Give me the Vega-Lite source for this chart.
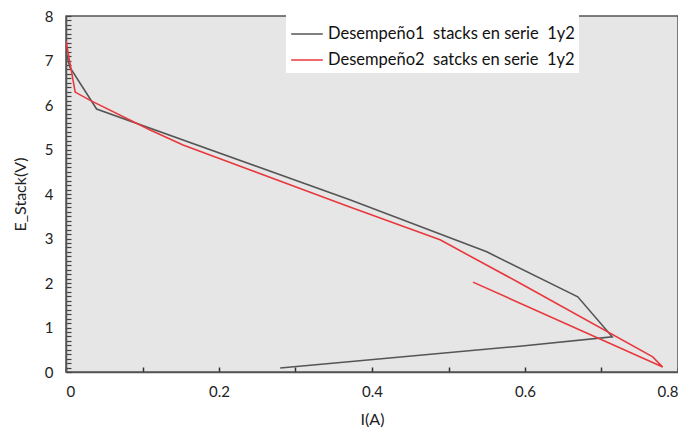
{
  "$schema": "https://vega.github.io/schema/vega-lite/v6.json",
  "width": 612,
  "height": 356,
  "autosize": {"type": "none"},
  "padding": {"left": 66, "top": 16, "right": 0, "bottom": 66},
  "background": "white",
  "config": {
    "font": "Lato",
    "view": {"fill": "#e6e6e6", "stroke": "#555555", "strokeWidth": 1.5}
  },
  "data": {
    "values": [
      {"s": "Desempeño1  stacks en serie  1y2", "i": 0, "x": 0.000, "y": 7.2},
      {"s": "Desempeño1  stacks en serie  1y2", "i": 1, "x": 0.005, "y": 6.85},
      {"s": "Desempeño1  stacks en serie  1y2", "i": 2, "x": 0.040, "y": 5.91},
      {"s": "Desempeño1  stacks en serie  1y2", "i": 3, "x": 0.371, "y": 3.87},
      {"s": "Desempeño1  stacks en serie  1y2", "i": 4, "x": 0.550, "y": 2.70},
      {"s": "Desempeño1  stacks en serie  1y2", "i": 5, "x": 0.669, "y": 1.69},
      {"s": "Desempeño1  stacks en serie  1y2", "i": 6, "x": 0.714, "y": 0.79},
      {"s": "Desempeño1  stacks en serie  1y2", "i": 7, "x": 0.593, "y": 0.58},
      {"s": "Desempeño1  stacks en serie  1y2", "i": 8, "x": 0.280, "y": 0.09},
      {"s": "Desempeño2  satcks en serie  1y2", "i": 0, "x": 0.000, "y": 7.44},
      {"s": "Desempeño2  satcks en serie  1y2", "i": 1, "x": 0.012, "y": 6.29},
      {"s": "Desempeño2  satcks en serie  1y2", "i": 2, "x": 0.031, "y": 6.11},
      {"s": "Desempeño2  satcks en serie  1y2", "i": 3, "x": 0.110, "y": 5.44},
      {"s": "Desempeño2  satcks en serie  1y2", "i": 4, "x": 0.153, "y": 5.10},
      {"s": "Desempeño2  satcks en serie  1y2", "i": 5, "x": 0.371, "y": 3.71},
      {"s": "Desempeño2  satcks en serie  1y2", "i": 6, "x": 0.489, "y": 2.97},
      {"s": "Desempeño2  satcks en serie  1y2", "i": 7, "x": 0.593, "y": 2.00},
      {"s": "Desempeño2  satcks en serie  1y2", "i": 8, "x": 0.767, "y": 0.34},
      {"s": "Desempeño2  satcks en serie  1y2", "i": 9, "x": 0.780, "y": 0.11},
      {"s": "Desempeño2  satcks en serie  1y2", "i": 10, "x": 0.532, "y": 2.02}
    ]
  },
  "mark": {"type": "line", "strokeWidth": 1.6, "clip": true},
  "encoding": {
    "x": {
      "field": "x", "type": "quantitative",
      "scale": {"domain": [0, 0.8], "nice": false, "zero": false},
      "axis": {
        "title": "I(A)", "titleFontSize": 16, "titleFontWeight": "normal", "titleColor": "#222", "titlePadding": 12,
        "values": [0, 0.1, 0.2, 0.3, 0.4, 0.5, 0.6, 0.7, 0.8],
        "labelExpr": "round(datum.value*10) % 2 === 0 ? (datum.value === 0 ? '0' : format(datum.value, '.1f')) : ''",
        "labelFontSize": 15, "labelColor": "#222", "labelFlush": true, "labelPadding": 17,
        "tickSize": -5, "tickWidth": 1.5, "tickColor": "#333", "domainColor": "#555", "domainWidth": 1.5, "grid": false
      }
    },
    "y": {
      "field": "y", "type": "quantitative",
      "scale": {"domain": [0, 8], "nice": false},
      "axis": {
        "title": "E_Stack(V)", "titleFontSize": 16, "titleFontWeight": "normal", "titleColor": "#222", "titlePadding": 16,
        "values": [0,0.1,0.2,0.3,0.4,0.5,0.6,0.7,0.8,0.9,1,1.1,1.2,1.3,1.4,1.5,1.6,1.7,1.8,1.9,2,2.1,2.2,2.3,2.4,2.5,2.6,2.7,2.8,2.9,3,3.1,3.2,3.3,3.4,3.5,3.6,3.7,3.8,3.9,4,4.1,4.2,4.3,4.4,4.5,4.6,4.7,4.8,4.9,5,5.1,5.2,5.3,5.4,5.5,5.6,5.7,5.8,5.9,6,6.1,6.2,6.3,6.4,6.5,6.6,6.7,6.8,6.9,7,7.1,7.2,7.3,7.4,7.5,7.6,7.7,7.8,7.9,8],
        "labelExpr": "abs(datum.value - round(datum.value)) < 0.001 ? format(datum.value, 'd') : ''",
        "labelFontSize": 15, "labelColor": "#222", "labelPadding": 18,
        "tickSize": -5, "tickWidth": 1.2, "tickColor": "#444", "domainColor": "#555", "domainWidth": 1.5, "grid": false
      }
    },
    "color": {
      "field": "s", "type": "nominal",
      "scale": {"range": ["#555555", "#e8383d"]},
      "legend": {
        "title": null, "orient": "none", "legendX": 220, "legendY": -3,
        "labelExpr": "replace(replace(replace(datum.label, '  stacks', '\u00a0 stacks'), '  satcks', '\u00a0 satcks'), '  1y2', '\u00a0 1y2')",
        "symbolType": "stroke", "symbolSize": 1000, "symbolStrokeWidth": 1.5,
        "labelFontSize": 16.5, "labelColor": "#111", "labelLimit": 400,
        "fillColor": "white", "padding": 4, "rowPadding": -9
      }
    },
    "order": {"field": "i", "type": "quantitative"}
  }
}
